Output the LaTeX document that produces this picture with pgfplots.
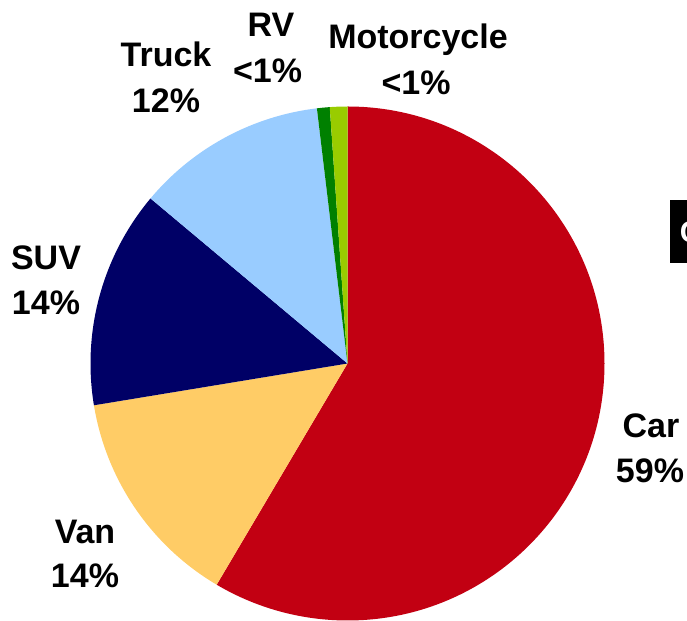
\documentclass[border=0pt]{standalone}
\usepackage{pgfplots}
\pgfplotsset{compat=1.18}
\usepackage{pgfplotstable}
\usepackage{fontspec}
\setmainfont{Liberation Sans}
\definecolor{carred}{RGB}{194,0,18}
\definecolor{vanyellow}{RGB}{255,204,102}
\definecolor{suvnavy}{RGB}{0,0,102}
\definecolor{trucksky}{RGB}{153,204,255}
\definecolor{rvgreen}{RGB}{0,128,0}
\definecolor{motogreen}{RGB}{153,204,0}
\pgfplotstableread[col sep=comma]{
name,value,color
Car,58.5,carred
Van,13.9,vanyellow
SUV,13.7,suvnavy
Truck,12.0,trucksky
RV,0.8,rvgreen
Motorcycle,1.1,motogreen
}\piedata
\tikzset{lbl/.style={inner sep=0pt, anchor=base, font=\fontsize{17}{20}\selectfont\bfseries}}
\begin{document}
\begin{tikzpicture}
\begin{axis}[x=0.5pt,y=0.5pt,
  xmin=-347.5,xmax=339.5,ymin=-257.5,ymax=363.5,
  hide axis, clip=false]
\xdef\astart{90}
\pgfplotstableforeachcolumnelement{value}\of\piedata\as\v{%
  \pgfplotstablegetelem{\pgfplotstablerow}{color}\of\piedata
  \let\wcol\pgfplotsretval
  \pgfmathsetmacro\aend{\astart-3.6*\v}
  \edef\tmp{\noexpand\fill[\wcol] (axis cs:0,0) -- ++(\astart:128.5pt) arc[start angle=\astart, end angle=\aend, radius=128.5pt] -- cycle;}
  \tmp
  \xdef\astart{\aend}
}
% labels
\node[lbl] at (axis cs:303.5,-74.5) {Car};
\node[lbl] at (axis cs:302.5,-119.5) {59\%};
\node[lbl] at (axis cs:-262.5,-180.5) {Van};
\node[lbl] at (axis cs:-262.5,-224.5) {14\%};
\node[lbl] at (axis cs:-301.5,93.5) {SUV};
\node[lbl] at (axis cs:-301.5,48.5) {14\%};
\node[lbl] at (axis cs:-181.5,296.5) {Truck};
\node[lbl] at (axis cs:-181.5,250.5) {12\%};
\node[lbl] at (axis cs:-76.5,326.5) {RV};
\node[lbl] at (axis cs:-80,280.5) {<1\%};
\node[lbl] at (axis cs:70.5,314.5) {Motorcycle};
\node[lbl] at (axis cs:68.5,268.5) {<1\%};
% cut-off box at right edge
\fill[black] (axis cs:322.5,163.5) rectangle (axis cs:360,100.5);
\node[inner sep=0pt, anchor=base west, text=white, font=\fontsize{15}{18}\selectfont\bfseries] at (axis cs:332,120.5) {C};
\end{axis}
\pgfresetboundingbox
\path (current axis.south west) rectangle (current axis.north east);
\end{tikzpicture}
\end{document}
